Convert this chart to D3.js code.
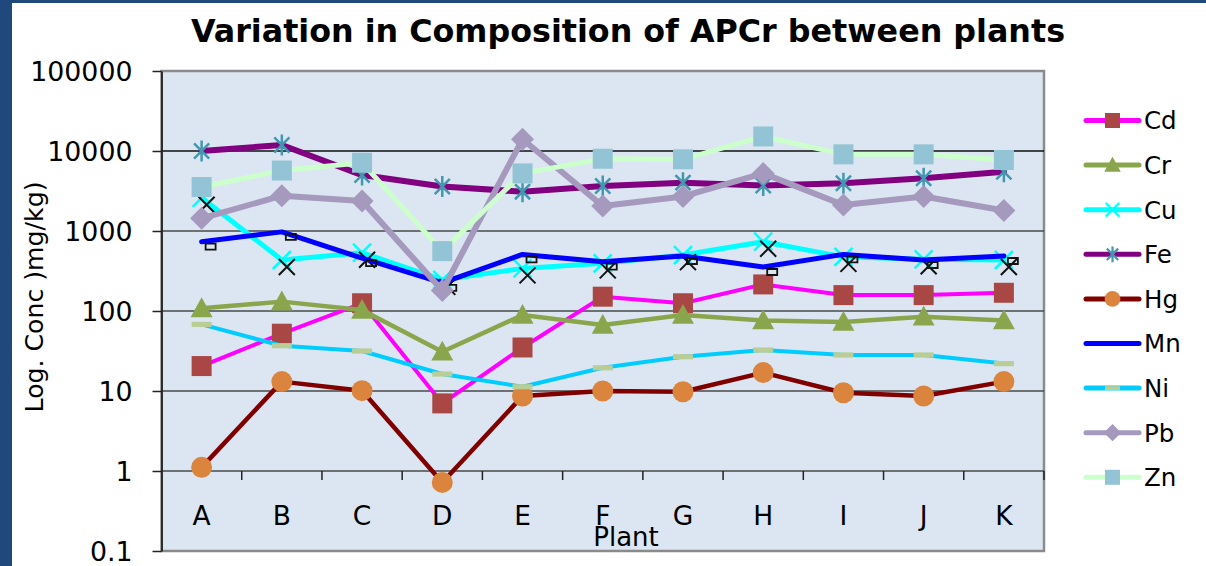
<!DOCTYPE html>
<html>
<head>
<meta charset="utf-8">
<script src="https://cdn.jsdelivr.net/npm/d3@7"></script>
<style>
  html, body { margin: 0; padding: 0; background: #fff; }
  text { font-family: "DejaVu Sans", Verdana, sans-serif; }
</style>
</head>
<body>
<svg id="chart" width="1206" height="566"></svg>
<script>
// ---------- data ----------
const plants = ["A","B","C","D","E","F","G","H","I","J","K"];
const seriesNames = ["Cd","Cr","Cu","Fe","Hg","Mn","Ni","Pb","Zn"];
const Cd = [20.5, 52, 125, 7, 35, 151, 125, 215, 158, 158, 169];
const Cr = [108, 131, 103, 31, 89, 67, 89, 76, 73, 85, 76];
const Cu = [2600, 434, 535, 245, 341, 394, 500, 735, 475, 443, 434];
const Fe = [10000, 11900, 5000, 3600, 3100, 3650, 4020, 3700, 3950, 4560, 5500];
const Hg = [1.11, 13.1, 10.1, 0.72, 8.66, 10, 9.8, 17, 9.5, 8.66, 13.1];
const Mn = [735, 975, 457, 225, 510, 413, 487, 355, 510, 434, 487];
const Ni = [68, 36.8, 31.6, 16.3, 11.3, 19.5, 26.8, 32.5, 28.2, 28.2, 22];
const Pb = [1440, 2760, 2370, 180, 14000, 2050, 2700, 5250, 2110, 2700, 1800];
const Zn = [3550, 5700, 7140, 560, 5250, 8000, 7870, 15200, 9080, 9080, 7720];
const yTickValues = [0.1, 1, 10, 100, 1000, 10000, 100000];
const yTickLabels = ["0.1", "1", "10", "100", "1000", "10000", "100000"];
const gridValues = [1, 10, 100, 1000, 10000];
const titleText = "Variation in Composition of APCr between plants";
const yTitle = "Log. Conc )mg/kg)";
const xTitle = "Plant";

// ---------- styles ----------
const styles = {
  Cd: {line: "#ff00ff", lw: 4,   marker: "square",   fill: "#a94744", r: 10},
  Cr: {line: "#8aa64c", lw: 4.5, marker: "triangle", fill: "#8aa64c", r: 11},
  Cu: {line: "#00ffff", lw: 5,   marker: "x",        stroke: "#00ffff", r: 9},
  Fe: {line: "#800080", lw: 6,   marker: "asterisk", stroke: "#4198af", r: 10.5},
  Hg: {line: "#800000", lw: 4.5, marker: "circle",   fill: "#db843d", r: 10.5},
  Mn: {line: "#0000ff", lw: 5,   marker: "none"},
  Ni: {line: "#00ccff", lw: 4,   marker: "bar",      fill: "#b9cd96", r: 10},
  Pb: {line: "#a599bd", lw: 6,   marker: "diamond",  fill: "#a599bd", r: 11.5},
  Zn: {line: "#ccffcc", lw: 5,   marker: "square",   fill: "#93c4d5", r: 10}
};
const dataMap = {Cd, Cr, Cu, Fe, Hg, Mn, Ni, Pb, Zn};

// custom symbol types: size = half extent in px
const symTypes = {
  square: {draw(c, r){ c.rect(-r, -r, 2*r, 2*r); }},
  triangle: {draw(c, r){ c.moveTo(0, -r); c.lineTo(r, r*0.8); c.lineTo(-r, r*0.8); c.closePath(); }},
  diamond: {draw(c, r){ c.moveTo(0, -r); c.lineTo(r, 0); c.lineTo(0, r); c.lineTo(-r, 0); c.closePath(); }},
  circle: {draw(c, r){ c.moveTo(r, 0); c.arc(0, 0, r, 0, 2*Math.PI); }},
  x: {draw(c, r){ c.moveTo(-r, -r); c.lineTo(r, r); c.moveTo(-r, r); c.lineTo(r, -r); }},
  asterisk: {draw(c, r){ c.moveTo(0, -r); c.lineTo(0, r); const d = r*0.72; c.moveTo(-d, -d); c.lineTo(d, d); c.moveTo(-d, d); c.lineTo(d, -d); }},
  bar: {draw(c, r){ c.rect(-r, -r*0.26, 2*r, r*0.52); }},
  flag: {draw(c, r){ c.rect(-r, -r*0.6, 2*r, r*1.2); }}
};
const strokeMarkers = new Set(["x", "asterisk"]);

// ---------- layout ----------
const svg = d3.select("#chart");
const plot = {left: 161.5, right: 1044, top: 71, bottom: 551};

svg.append("rect").attr("width", 1206).attr("height", 566).attr("fill", "#fff");
svg.append("rect").attr("x", 0).attr("y", 0).attr("width", 12).attr("height", 566).attr("fill", "#1f497d");
svg.append("rect").attr("x", 0).attr("y", 0).attr("width", 1206).attr("height", 3).attr("fill", "#1f497d");

const x = d3.scaleBand().domain(plants).range([plot.left, plot.right]);
const xc = d => x(d) + x.bandwidth() / 2;
const y = d3.scaleLog().domain([0.1, 100000]).range([plot.bottom, plot.top]);

// plot background
svg.append("rect")
  .attr("x", plot.left).attr("y", plot.top)
  .attr("width", plot.right - plot.left).attr("height", plot.bottom - plot.top)
  .attr("fill", "#dce6f2").attr("stroke", "#8a8a8a").attr("stroke-width", 2.5);

// gridlines
svg.append("g").selectAll("line").data(gridValues).join("line")
  .attr("x1", plot.left).attr("x2", plot.right)
  .attr("y1", d => y(d)).attr("y2", d => y(d))
  .attr("stroke", d => d === 10000 ? "#111" : "#4a4a4a").attr("stroke-width", 1.3);

// y axis
const yAxis = d3.axisLeft(y).tickValues(yTickValues)
  .tickFormat((d, i) => yTickLabels[i]).tickSizeInner(9).tickSizeOuter(0).tickPadding(20);
const gy = svg.append("g").attr("transform", `translate(${plot.left},0)`).call(yAxis);
gy.select(".domain").attr("stroke", "#222").attr("stroke-width", 1.8);
gy.selectAll(".tick line").attr("stroke", "#222").attr("stroke-width", 1.5);
gy.selectAll(".tick text").attr("font-size", 26.8).attr("fill", "#000")
  .attr("font-family", "DejaVu Sans").attr("dy", "0.36em");

// x axis at value 1
const gx = svg.append("g").attr("transform", `translate(0,${y(1)})`);
gx.selectAll("line.tk").data(plants).join("line").attr("class", "tk")
  .attr("x1", d => x(d) + x.bandwidth()).attr("x2", d => x(d) + x.bandwidth())
  .attr("y1", 0).attr("y2", 9).attr("stroke", "#222").attr("stroke-width", 1.5);
gx.selectAll("text").data(plants).join("text")
  .attr("x", d => xc(d)).attr("y", 54).attr("text-anchor", "middle")
  .attr("font-size", 26.5).attr("fill", "#000").text(d => d);

// series lines
const lineGen = d3.line().x((d, i) => xc(plants[i])).y(d => y(d));
seriesNames.forEach(name => {
  const s = styles[name];
  const g = svg.append("g");
  g.append("path").datum(dataMap[name]).attr("d", lineGen)
    .attr("fill", "none").attr("stroke", s.line).attr("stroke-width", s.lw)
    .attr("stroke-linejoin", "round").attr("stroke-linecap", "round");
  if (s.marker !== "none") {
    const sym = d3.symbol().type(symTypes[s.marker]).size(s.r);
    const isStroke = strokeMarkers.has(s.marker);
    g.selectAll("path.m").data(dataMap[name]).join("path").attr("class", "m")
      .attr("transform", (d, i) => `translate(${xc(plants[i])},${y(d)})`)
      .attr("d", sym)
      .attr("fill", isStroke ? "none" : s.fill)
      .attr("stroke", isStroke ? s.stroke : "none")
      .attr("stroke-width", isStroke ? 2.5 : 0);
  }
  if (name === "Cu") {
    // dark ghost crosses seen beside the Cu markers
    g.selectAll("path.ghost").data(Cu).join("path").attr("class", "ghost")
      .attr("transform", (d, i) => `translate(${xc(plants[i]) + 5},${y(d) + 7})`)
      .attr("d", d3.symbol().type(symTypes.x).size(8))
      .attr("fill", "none").attr("stroke", "#111").attr("stroke-width", 2);
  }
  if (name === "Mn") {
    g.selectAll("path.ghost").data(Mn).join("path").attr("class", "ghost")
      .attr("transform", (d, i) => `translate(${xc(plants[i]) + 9},${y(d) + 5})`)
      .attr("d", d3.symbol().type(symTypes.flag).size(5))
      .attr("fill", "none").attr("stroke", "#111").attr("stroke-width", 1.8);
  }
});

// title
const title = svg.append("text").attr("x", 628).attr("y", 42).attr("text-anchor", "middle")
  .attr("font-size", 31.7).attr("font-weight", "bold").attr("fill", "#000").text(titleText);
const tl = title.node().getComputedTextLength();
if (tl > 0) title.attr("font-size", 31.7 * 874 / tl);

// axis titles
const yt = svg.append("text").attr("transform", "translate(43,297) rotate(-90)")
  .attr("text-anchor", "middle").attr("font-size", 25).attr("fill", "#000").text(yTitle);
const ytl = yt.node().getComputedTextLength();
if (ytl > 0) yt.attr("font-size", 25 * 231 / ytl);
svg.append("text").attr("x", 626).attr("y", 546).attr("text-anchor", "middle")
  .attr("font-size", 26).attr("fill", "#000").text(xTitle);

// legend
const legend = svg.append("g");
seriesNames.forEach((name, i) => {
  const s = styles[name];
  const ly = 120.5 + i * 44.6;
  const lg = legend.append("g").attr("transform", `translate(0,${ly})`);
  lg.append("line").attr("x1", 1086).attr("x2", 1139).attr("y1", 0).attr("y2", 0)
    .attr("stroke", s.line).attr("stroke-width", 5).attr("stroke-linecap", "round");
  if (s.marker !== "none") {
    const isStroke = strokeMarkers.has(s.marker);
    lg.append("path").attr("transform", "translate(1112.5,0)")
      .attr("d", d3.symbol().type(symTypes[s.marker]).size(s.r * 0.75))
      .attr("fill", isStroke ? "none" : s.fill)
      .attr("stroke", isStroke ? s.stroke : "none")
      .attr("stroke-width", isStroke ? 2.2 : 0);
  }
  lg.append("text").attr("x", 1144).attr("y", 8.8).attr("font-size", 24.5).attr("fill", "#000").text(name);
});
</script>
</body>
</html>
